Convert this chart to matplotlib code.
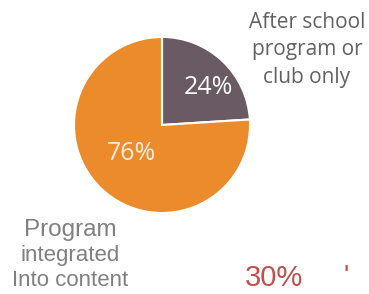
import matplotlib.pyplot as plt

# slices
labels = ['After school\nprogram or\nclub only', 'Program\nintegrated\nInto content']
values = [24, 76]
colors = ['#6a5a63', '#ec8b2c']
pct_text = ['24%', '76%']

W, H = 369, 294
fig = plt.figure(figsize=(W / 100, H / 100), dpi=100)
ax = fig.add_axes([0, 0, 1, 1])

cx, cy, r = 162, H - 125, 88
wedges, _ = ax.pie(values, colors=colors, startangle=90, counterclock=False,
                   center=(cx, cy), radius=r, explode=[0.06, 0],
                   wedgeprops=dict(linewidth=1.5, edgecolor='white'), frame=True)

# percent labels inside the slices
ax.text(208, H - 87, pct_text[0], color='white', fontsize=18, family='Open Sans',
        ha='center', va='center')
ax.text(132, H - 153, pct_text[1], color='#fbeee0', fontsize=18, family='Open Sans',
        ha='center', va='center')

# category labels
ax.text(307, H - 50, labels[0], color='#626262', fontsize=15, family='Open Sans',
        ha='center', va='center', linespacing=1.4)
ax.text(70, H - 230, 'Program', color='#808080', fontsize=17.5,
        family='Liberation Sans', ha='center', va='center')
ax.text(70, H - 256, 'integrated', color='#808080', fontsize=16,
        family='Liberation Sans', ha='center', va='center')
ax.text(70, H - 280, 'Into content', color='#808080', fontsize=16,
        family='Liberation Sans', ha='center', va='center')

# stray red figures at the bottom
ax.text(274, H - 278, '30%', color='#c0504d', fontsize=21,
        family='Liberation Sans', ha='center', va='center')
ax.text(346, H - 277, "'", color='#c0504d', fontsize=20,
        family='Liberation Sans', ha='center', va='center')

ax.set_xlim(0, W)
ax.set_ylim(0, H)
ax.set_aspect('auto')
ax.axis('off')
fig.savefig('out.png', dpi=100)
